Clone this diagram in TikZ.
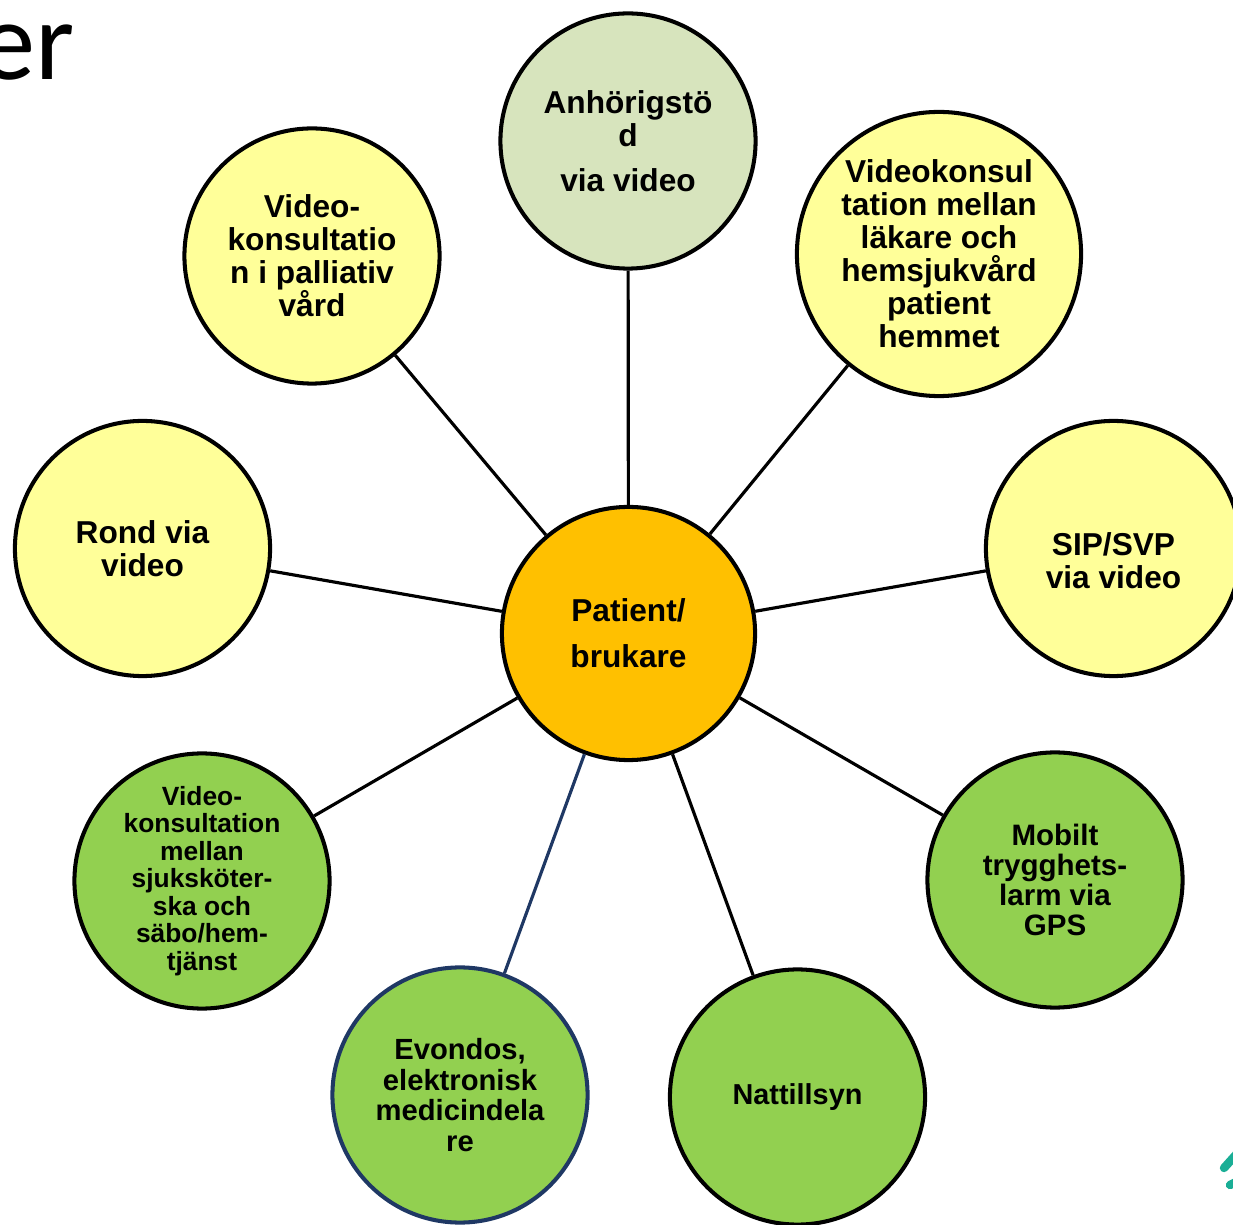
\documentclass[tikz,border=0pt]{standalone}
\usepackage{fontspec}
\setmainfont{Liberation Sans}
\newfontfamily\calib{Carlito}
\definecolor{paleyellow}{HTML}{FFFF99}
\definecolor{sage}{HTML}{D7E4BD}
\definecolor{leaf}{HTML}{92D050}
\definecolor{amber}{HTML}{FFC000}
\definecolor{navy}{HTML}{1F3864}
\definecolor{teal}{HTML}{1AAE96}
\begin{document}
\begin{tikzpicture}[x=0.01cm,y=-0.01cm,
  bubble/.style={circle, draw=black, line width=1.15pt, minimum size=2.55cm, inner sep=0pt, align=center,
    font=\bfseries\fontsize{9}{9.4}\selectfont},
  yel/.style={bubble, fill=paleyellow},
  grn/.style={bubble, fill=leaf},
  link/.style={line width=0.9pt, draw=black}]
\useasboundingbox (0,0) rectangle (1233,1225);

\node[anchor=base east, inner sep=0pt, font=\calib\fontsize{32}{32}\selectfont] (er) at (75,80) {er};

\node[bubble, fill=amber, minimum size=2.53cm, font=\bfseries\fontsize{9}{13.1}\selectfont] (pat) at (628.5,633.5) {Patient/\\brukare};

\node[bubble, fill=sage] (anh) at (628,141) {Anhörigstö\\d\\[3.4pt]via video};
\node[yel, minimum size=2.84cm] (lak) at (939,254) {Videokonsul\\tation mellan\\läkare och\\hemsjukvård\\patient\\hemmet};
\node[yel, label={[font=\bfseries\fontsize{9}{9.4}\selectfont, align=center, yshift=-0.12cm]center:SIP/SVP\\via video}] (sip) at (1113.5,548.5) {};
\node[grn, font=\bfseries\fontsize{8.4}{8.6}\selectfont] (mob) at (1055,880) {Mobilt\\trygghets-\\larm via\\GPS};
\node[grn, font=\bfseries\fontsize{8.2}{8.6}\selectfont] (nat) at (797.5,1097) {Nattillsyn};
\node[grn, draw=navy, font=\bfseries\fontsize{8.3}{8.7}\selectfont] (evo) at (460,1095) {Evondos,\\elektronisk\\medicindela\\re};
\node[grn, font=\bfseries\fontsize{7.5}{7.8}\selectfont] (sjk) at (202,881) {Video-\\konsultation\\mellan\\sjuksköter-\\ska och\\säbo/hem-\\tjänst};
\node[yel] (ron) at (142.5,548.5) {Rond via\\video};
\node[yel] (pal) at (312,256) {Video-\\konsultatio\\n i palliativ\\vård};

\draw[link] (pat) -- (anh);
\draw[link] (pat) -- (lak);
\draw[link] (pat) -- (sip);
\draw[link] (pat) -- (mob);
\draw[link] (pat) -- (nat);
\draw[link, draw=navy] (pat) -- (evo);
\draw[link] (pat) -- (sjk);
\draw[link] (pat) -- (ron);
\draw[link] (pat) -- (pal);

\draw[teal, line width=2.4pt, line cap=round] (1224,1168) -- (1242,1148);
\draw[teal, line width=2.4pt, line cap=round] (1230,1185) -- (1242,1179);
\end{tikzpicture}
\end{document}
